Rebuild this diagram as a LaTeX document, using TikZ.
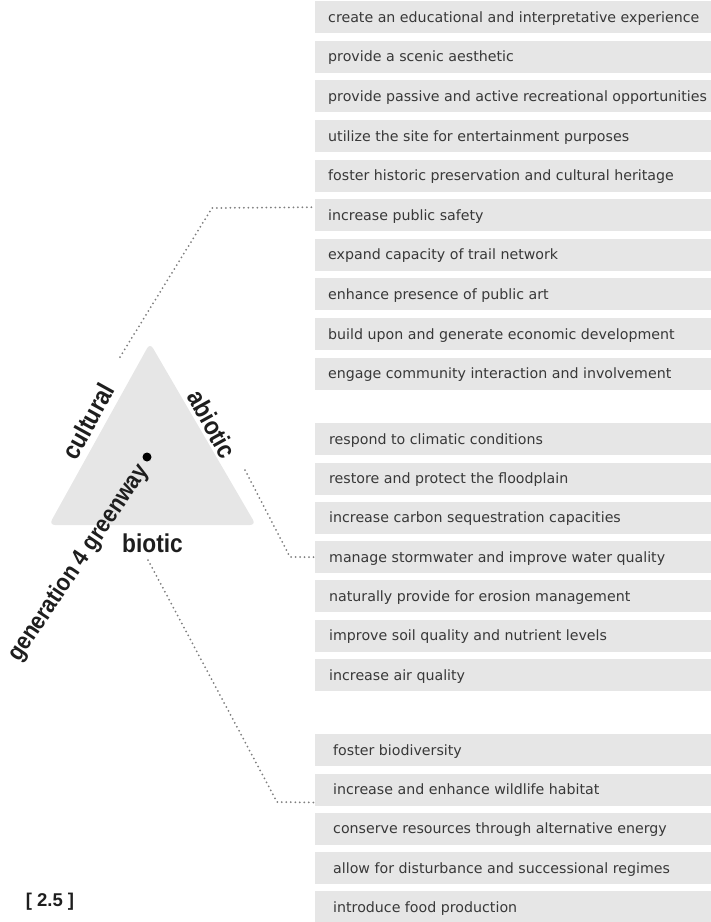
\documentclass[tikz,border=0pt]{standalone}
\usepackage{fontspec}
\setmainfont{DejaVu Sans}
\newfontfamily\labfont[FakeStretch=0.88]{Liberation Sans Bold}
\newfontfamily\numfont{Liberation Sans Bold}
\definecolor{barfill}{HTML}{E6E6E6}
\definecolor{bartext}{HTML}{383838}
\definecolor{dotgray}{HTML}{7E7E7E}
\definecolor{labtext}{HTML}{1E1E1E}
\tikzset{
  barbox/.style={fill=barfill, draw=none, anchor=north west, minimum width=396bp,
    minimum height=32bp, inner xsep=13bp, inner ysep=0pt, text height=12bp, text depth=2bp,
    font=\fontsize{14.2bp}{16bp}\selectfont, text=bartext},
  sidelab/.style={font=\labfont\fontsize{25.8bp}{28bp}\selectfont, text=labtext, inner sep=0pt},
  dotline/.style={draw=dotgray, line width=2bp, line cap=round, dash pattern=on 0bp off 4.5bp},
  tri/.style={fill=barfill, rounded corners=6bp},
}
\newcommand{\bartxt}[2]{\makebox[370bp][l]{\hspace*{#1}#2}}
\begin{document}
\begin{tikzpicture}[x=1bp,y=-1bp]
\useasboundingbox (0,0) rectangle (711,922);
% cultural group
\foreach \t [count=\i from 0] in {create an educational and interpretative experience,
  provide a scenic aesthetic,
  provide passive and active recreational opportunities,
  utilize the site for entertainment purposes,
  foster historic preservation and cultural heritage,
  increase public safety,
  expand capacity of trail network,
  enhance presence of public art,
  build upon and generate economic development,
  engage community interaction and involvement}{
  \node[barbox] (c\i) at (315,{1+39.6*\i}) {\bartxt{0bp}{\t}};
}
% abiotic group
\foreach \t [count=\i from 0] in {respond to climatic conditions,
  restore and protect the floodplain,
  increase carbon sequestration capacities,
  manage stormwater and improve water quality,
  naturally provide for erosion management,
  improve soil quality and nutrient levels,
  increase air quality}{
  \node[barbox] (a\i) at (315,{423+39.3*\i}) {\bartxt{1bp}{\t}};
}
% biotic group
\foreach \t [count=\i from 0] in {foster biodiversity,
  increase and enhance wildlife habitat,
  conserve resources through alternative energy,
  allow for disturbance and successional regimes,
  introduce food production}{
  \node[barbox] (b\i) at (315,{734+39.3*\i}) {\bartxt{5bp}{\t}};
}
% triangle
\path[tri] (150,343) -- (256,525) -- (49,525) -- cycle;
\node[circle, fill=black, inner sep=0pt, minimum size=9bp] (hub) at (147,457) {};
% labels
\node[sidelab, rotate=61] (cult) at (88,421) {cultural};
\node[sidelab, rotate=-61] (abio) at (212,424) {abiotic};
\node[sidelab, anchor=base] (biot) at (152.5,552) {biotic};
\node[sidelab, font=\labfont\fontsize{24.3bp}{27bp}\selectfont, rotate=56] (gen) at (79,563) {generation 4 greenway};
\node[font=\numfont\fontsize{18.5bp}{20bp}\selectfont, text=labtext, inner sep=0pt] (fig) at (50,902) {[ 2.5 ]};
% connectors
\coordinate (cs) at (120,357);
\coordinate (cc) at (212,208);
\coordinate (as) at (245,470);
\coordinate (ac) at (290,557);
\coordinate (bs) at (148,560);
\coordinate (bc) at (277,802);
\draw[dotline] (cs) -- (cc) -- ([shift={(-1,-8)}]c5.west);
\draw[dotline] (as) -- (ac) -- ([shift={(-1,0)}]a3.west);
\draw[dotline] (bs) -- (bc) -- ([shift={(-1,13)}]b1.west);
\end{tikzpicture}
\end{document}
